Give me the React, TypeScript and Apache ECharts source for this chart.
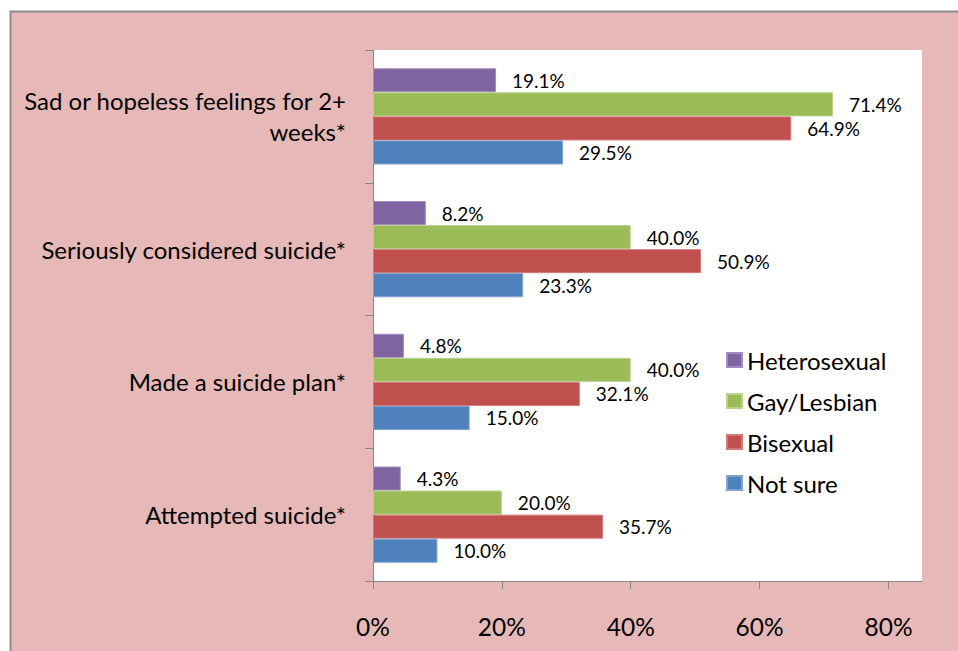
import React, { useEffect, useRef } from "react";
import * as echarts from "echarts";

const categories = [
  "Attempted suicide*",
  "Made a suicide plan*",
  "Seriously considered suicide*",
  "Sad or hopeless feelings for 2+\nweeks*",
];
const heterosexual = [4.3, 4.8, 8.2, 19.1];
const gayLesbian = [20.0, 40.0, 40.0, 71.4];
const bisexual = [35.7, 32.1, 50.9, 64.9];
const notSure = [10.0, 15.0, 23.3, 29.5];
const xTicks = [0, 20, 40, 60, 80];

const FONT = "Lato";

export default function App() {
  const ref = useRef<HTMLDivElement>(null);
  useEffect(() => {
    if (!ref.current) return;
    const chart = echarts.init(ref.current, undefined, { renderer: "svg" });
    const mk = (name: string, data: number[], color: string, border: string) => ({
      name,
      type: "bar",
      data,
      barGap: "0%",
      barCategoryGap: "27.5%",
      itemStyle: { color, borderColor: border, borderWidth: 1 },
      label: {
        show: true,
        position: "right",
        distance: 16,
        color: "#000",
        fontFamily: FONT,
        fontSize: 19,
        formatter: (p: any) => p.value.toFixed(1) + "%",
      },
    });
    chart.setOption({
      animation: false,
      backgroundColor: "#ffffff",
      textStyle: { fontFamily: FONT },
      graphic: [
        {
          type: "rect",
          shape: { x: 10.5, y: 11.5, width: 960, height: 660 },
          style: { fill: "#E6B9B8", stroke: "#8a8a8a", lineWidth: 2 },
          z: -10,
          silent: true,
        },
      ],
      grid: {
        left: 373,
        top: 50,
        right: 36,
        bottom: 70,
        show: true,
        backgroundColor: "#ffffff",
        borderWidth: 0,
      },
      legend: {
        orient: "vertical",
        left: 721,
        top: 343,
        itemWidth: 15,
        itemHeight: 14,
        itemGap: 17,
        icon: "rect",
        data: ["Heterosexual", "Gay/Lesbian", "Bisexual", "Not sure"],
        textStyle: { fontFamily: FONT, fontSize: 24, color: "#000" },
      },
      xAxis: {
        type: "value",
        min: 0,
        max: 85.2,
        interval: 20,
        splitLine: { show: false },
        axisLine: { show: true, lineStyle: { color: "#868686", width: 1 } },
        axisTick: {
          show: true,
          length: 8,
          customValues: xTicks,
          lineStyle: { color: "#868686" },
        },
        axisLabel: {
          customValues: xTicks,
          margin: 33,
          fontFamily: FONT,
          fontSize: 24.5,
          color: "#000",
          formatter: (v: number) => v + "%",
        },
      },
      yAxis: {
        type: "category",
        data: categories,
        axisLine: { show: true, lineStyle: { color: "#868686", width: 1 } },
        axisTick: { show: true, length: 8, lineStyle: { color: "#868686" } },
        axisLabel: {
          margin: 27,
          fontFamily: FONT,
          fontSize: 24,
          lineHeight: 31,
          color: "#000",
          align: "right",
        },
      },
      series: [
        mk("Heterosexual", heterosexual, "#8064A2", "#a28cbd"),
        mk("Gay/Lesbian", gayLesbian, "#9BBB59", "#b9d28a"),
        mk("Bisexual", bisexual, "#C0504D", "#d07a78"),
        mk("Not sure", notSure, "#4F81BD", "#7fa3d1"),
      ],
    });
    return () => chart.dispose();
  }, []);
  return (
    <div
      ref={ref}
      style={{ position: "fixed", left: 0, top: 0, width: 958, height: 651 }}
    />
  );
}
